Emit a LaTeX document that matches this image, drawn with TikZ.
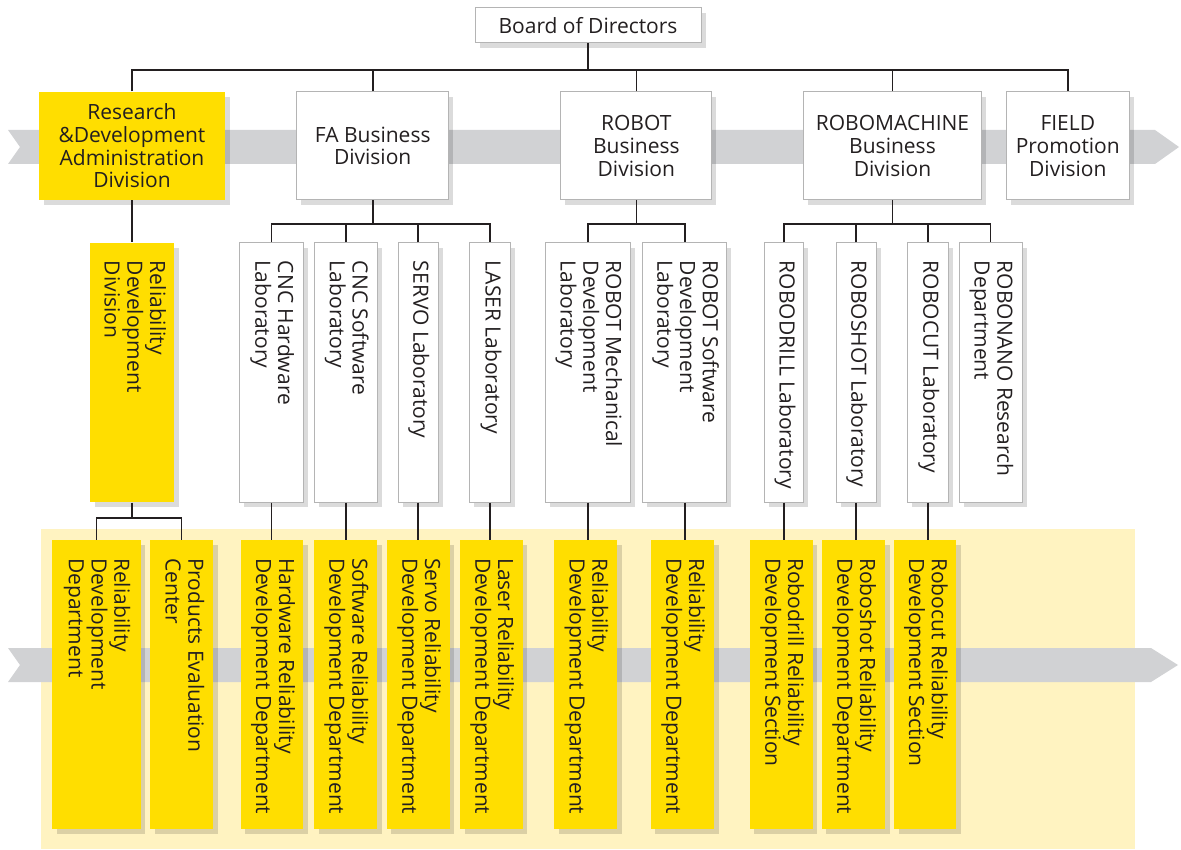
\documentclass[tikz,border=0pt]{standalone}
\usepackage{fontspec}
\setmainfont{Open Sans}
\usepackage{graphicx}
\usetikzlibrary{shadows}
\definecolor{gelb}{HTML}{FFDE00}
\definecolor{hellgelb}{HTML}{FFF3C1}
\definecolor{band}{HTML}{D1D2D4}
\definecolor{schrift}{HTML}{231F20}
\definecolor{rand}{HTML}{B4B4B4}
% senkrechter Text, beginnt oben im Kasten
\newcommand{\vtext}[2]{\rotatebox{-90}{\makebox[#1][l]{\begin{tabular}{@{}l@{}}#2\end{tabular}}}}
\begin{document}
\begin{tikzpicture}[x=1pt, y=-1pt,
	every node/.style={font=\fontsize{21}{22.7}\selectfont, text=schrift, inner sep=0pt},
	kasten/.style={rectangle, fill=white, draw=rand, line width=1pt,
		drop shadow={shadow xshift=4.5pt, shadow yshift=-5pt, fill=black, opacity=0.14}},
	gelbkasten/.style={kasten, fill=gelb, draw=none},
	lab/.style={minimum height=259pt},
	abt/.style={gelbkasten, minimum height=289pt},
	linie/.style={line width=1.6pt, draw=schrift}]
	\useasboundingbox (0,0) rectangle (1181,850);
	%Hintergrund
	\fill[hellgelb] (41,529) rectangle (1135,849);
	\fill[band] (8,130) -- (1155,130) -- (1179,147) -- (1155,164) -- (8,164) -- (20,147) -- cycle;
	\fill[band] (8,648) -- (1151,648) -- (1178,665) -- (1151,682) -- (8,682) -- (20,665) -- cycle;
	%Vorstand
	\node[kasten, minimum width=226pt, minimum height=35pt] (board) at (588,25.5) {Board of Directors};
	%Divisionen
	\node[gelbkasten, minimum width=186pt, minimum height=108pt, align=center] (rnd) at (132,146) {Research\\\&Development\\Administration\\Division};
	\node[kasten, minimum width=151.5pt, minimum height=108pt, align=center] (fa) at (372.7,146) {FA Business\\Division};
	\node[kasten, minimum width=151.3pt, minimum height=108pt, align=center] (robot) at (636.3,146) {ROBOT\\Business\\Division};
	\node[kasten, minimum width=178.5pt, minimum height=108pt, align=center] (robomachine) at (892.5,146) {ROBOMACHINE\\Business\\Division};
	\node[kasten, minimum width=122.4pt, minimum height=108pt, align=center] (field) at (1067.8,146) {FIELD\\Promotion\\Division};
	%Labore
	\node[gelbkasten, lab, minimum width=84pt] (reldiv) at (132,372.5) {\vtext{223pt}{Reliability\\Development\\Division}};
	\node[kasten, lab, minimum width=63.4pt] (cnchw) at (271.3,372.5) {\vtext{223pt}{CNC Hardware\\Laboratory}};
	\node[kasten, lab, minimum width=62.4pt] (cncsw) at (345.8,372.5) {\vtext{223pt}{CNC Software\\Laboratory}};
	\node[kasten, lab, minimum width=40pt] (servo) at (418,372.5) {\vtext{223pt}{SERVO Laboratory}};
	\node[kasten, lab, minimum width=40.5pt] (laser) at (490.2,372.5) {\vtext{223pt}{LASER Laboratory}};
	\node[kasten, lab, minimum width=85pt] (robomech) at (588,372.5) {\vtext{223pt}{ROBOT Mechanical\\Development\\Laboratory}};
	\node[kasten, lab, minimum width=84.5pt] (robosoft) at (684.7,372.5) {\vtext{223pt}{ROBOT Software\\Development\\Laboratory}};
	\node[kasten, lab, minimum width=39.5pt] (robodrill) at (784.2,372.5) {\vtext{223pt}{ROBODRILL Laboratory}};
	\node[kasten, lab, minimum width=40pt] (roboshot) at (856,372.5) {\vtext{223pt}{ROBOSHOT Laboratory}};
	\node[kasten, lab, minimum width=40.2pt] (robocut) at (927.9,372.5) {\vtext{223pt}{ROBOCUT Laboratory}};
	\node[kasten, lab, minimum width=63pt] (robonano) at (990.5,372.5) {\vtext{223pt}{ROBONANO Research\\Department}};
	%Abteilungen
	\node[abt, minimum width=88.5pt] (reldept) at (96.3,684.7) {\vtext{253pt}{Reliability\\Development\\Department}};
	\node[abt, minimum width=63pt] (prodeval) at (181.5,684.7) {\vtext{253pt}{Products Evaluation\\Center}};
	\node[abt, minimum width=62.5pt] (hwrel) at (272.2,684.7) {\vtext{253pt}{Hardware Reliability\\Development Department}};
	\node[abt, minimum width=63pt] (swrel) at (345.5,684.7) {\vtext{253pt}{Software Reliability\\Development Department}};
	\node[abt, minimum width=62.7pt] (servorel) at (418.3,684.7) {\vtext{253pt}{Servo Reliability\\Development Department}};
	\node[abt, minimum width=62.8pt] (laserrel) at (491.4,684.7) {\vtext{253pt}{Laser Reliability\\Development Department}};
	\node[abt, minimum width=63pt] (mechrel) at (585.5,684.7) {\vtext{253pt}{Reliability\\Development Department}};
	\node[abt, minimum width=63.2pt] (softrel) at (682.4,684.7) {\vtext{253pt}{Reliability\\Development Department}};
	\node[abt, minimum width=62.7pt] (drillrel) at (781.3,684.7) {\vtext{253pt}{Robodrill Reliability\\Development Section}};
	\node[abt, minimum width=63.2pt] (shotrel) at (853.4,684.7) {\vtext{253pt}{Roboshot Reliability\\Development Department}};
	\node[abt, minimum width=62pt] (cutrel) at (925,684.7) {\vtext{253pt}{Robocut Reliability\\Development Section}};
	%Verbindungen oben
	\coordinate (bus1) at (0,70);
	\draw[linie] (board.south) -- (board.south |- bus1);
	\draw[linie] (rnd.north) |- (field.north |- bus1) -- (field.north);
	\foreach \n in {fa,robot,robomachine}
		\draw[linie] (\n.north) -- (\n.north |- bus1);
	%Verbindungen Mitte
	\coordinate (bus2) at (0,224);
	\draw[linie] (rnd.south) -- (reldiv.north);
	\foreach \n in {fa,robot,robomachine}
		\draw[linie] (\n.south) -- (\n.south |- bus2);
	\draw[linie] (cnchw.north) |- (laser.north |- bus2) -- (laser.north);
	\draw[linie] (robomech.north) |- (robosoft.north |- bus2) -- (robosoft.north);
	\draw[linie] (robodrill.north) |- (robonano.north |- bus2) -- (robonano.north);
	\foreach \n in {cncsw,servo,roboshot,robocut}
		\draw[linie] (\n.north) -- (\n.north |- bus2);
	%Verbindungen unten
	\coordinate (bus3) at (0,518);
	\draw[linie] (reldiv.south) -- (reldiv.south |- bus3);
	\draw[linie] (reldept.north) |- (prodeval.north |- bus3) -- (prodeval.north);
	\foreach \a/\b in {cnchw/hwrel,cncsw/swrel,servo/servorel,laser/laserrel,robomech/mechrel,robosoft/softrel,robodrill/drillrel,roboshot/shotrel,robocut/cutrel}
		\draw[linie] (\a.south) -- (\a.south |- \b.north);
\end{tikzpicture}
\end{document}
